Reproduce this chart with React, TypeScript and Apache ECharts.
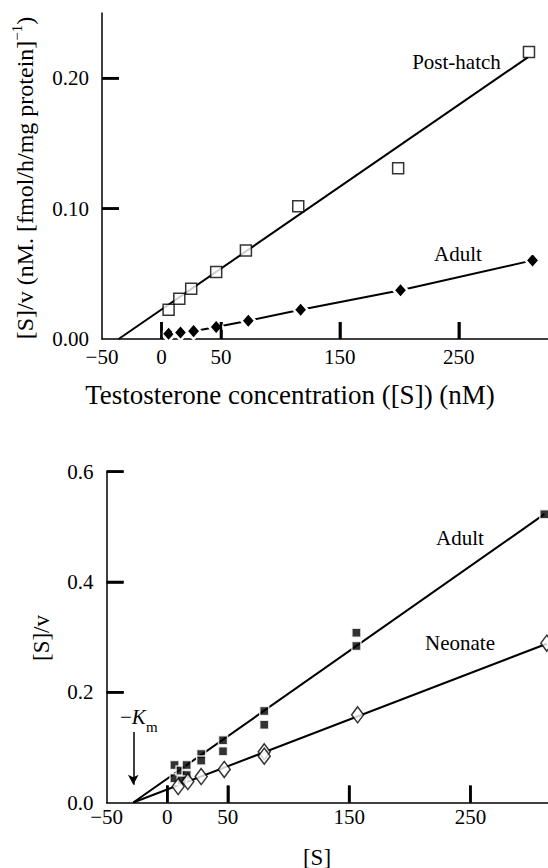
import React, { useEffect, useRef } from "react";
import * as echarts from "echarts";

// ---------- Top panel data ----------
const postHatchS = [6, 15, 25, 46, 71, 115, 199, 309];
const postHatchSv = [0.0224, 0.0308, 0.0386, 0.0514, 0.0679, 0.1018, 0.131, 0.2201];
const postHatchFitS = [-36, 308];
const postHatchFitSv = [0, 0.216];
const adultTopS = [6, 16, 27, 46, 73, 117, 201, 312];
const adultTopSv = [0.004, 0.005, 0.006, 0.0092, 0.014, 0.0224, 0.0374, 0.0603];

// ---------- Bottom panel data ----------
const adultBotS = [6, 6, 11, 16, 16, 12, 28, 28, 46, 46, 80, 80, 156, 156, 311];
const adultBotSv = [0.068, 0.044, 0.058, 0.068, 0.05, 0.04, 0.088, 0.076, 0.113, 0.093, 0.166, 0.141, 0.308, 0.284, 0.523];
const adultBotFitS = [-28, 311];
const adultBotFitSv = [0, 0.523];
const neonateS = [9, 17, 28, 47, 80, 80, 157, 313];
const neonateSv = [0.029, 0.038, 0.047, 0.06, 0.092, 0.084, 0.159, 0.289];
const neonateFitS = [-28, 313];
const neonateFitSv = [0, 0.288];
const kmS = -28;
const kmArrowSv = [0.128, 0.032];

// ---------- Axes / ticks ----------
const xMin = -50;
const xTopMax = 325;
const xBotMax = 314;
const yTopMax = 0.25;
const yBotMax = 0.6;
const xTickLabelValues = [-50, 0, 50, 150, 250];
const xTickMarkValues = [0, 50, 150, 250];
const yTopTickLabelValues = [0, 0.1, 0.2];
const yTopTickMarkValues = [0.1, 0.2];
const yBotTickLabelValues = [0, 0.2, 0.4, 0.6];
const yBotTickMarkValues = [0.2, 0.4, 0.6];

const FONT = "'Liberation Serif', 'Times New Roman', serif";

// layout (pixels)
const GRID_TOP = { left: 102, top: 13, width: 446, height: 326 };
const GRID_BOT = { left: 106.6, top: 471.7, width: 441.4, height: 330.8 };
const TICK_PX = 17;

const zip = (a: number[], b: number[]) => a.map((v, i) => [v, b[i]]);
const fmtX = (v: number) => (v < 0 ? "\u2212" + Math.abs(v) : String(v));

function xAxis(gridIndex: number, max: number, margin: number) {
  return {
    type: "value",
    gridIndex,
    min: xMin,
    max,
    axisLine: { show: true, onZero: false, lineStyle: { color: "#000", width: 1.5 } },
    splitLine: { show: false },
    axisTick: {
      show: true,
      inside: true,
      length: TICK_PX,
      customValues: xTickMarkValues,
      lineStyle: { color: "#000", width: 2.5 },
    },
    axisLabel: {
      customValues: xTickLabelValues,
      formatter: fmtX,
      fontSize: 21,
      fontFamily: FONT,
      color: "#000",
      margin,
    },
  };
}

function yAxis(gridIndex: number, max: number, labels: number[], marks: number[], digits: number, pad: number) {
  return {
    type: "value",
    gridIndex,
    min: 0,
    max,
    axisLine: { show: true, onZero: false, lineStyle: { color: "#000", width: 1.5 } },
    splitLine: { show: false },
    axisTick: {
      show: true,
      inside: true,
      length: TICK_PX,
      customValues: marks,
      lineStyle: { color: "#000", width: 2.5 },
    },
    axisLabel: {
      customValues: labels,
      formatter: (v: number) => v.toFixed(digits),
      fontSize: 21,
      fontFamily: FONT,
      color: "#000",
      margin: 13,
      padding: [pad, 0, 0, 0],
    },
  };
}

// inward tick marks also drawn as short line series, in each grid's data coordinates
function tickSeries(
  g: number,
  yMarks: number[],
  grid: { width: number; height: number },
  xmax: number,
  ymax: number
) {
  const xLen = (TICK_PX / grid.height) * ymax;
  const yLen = (TICK_PX / grid.width) * (xmax - xMin);
  const segs: number[][][] = [];
  xTickMarkValues.forEach((v) => segs.push([[v, 0], [v, xLen]]));
  yMarks.forEach((v) => segs.push([[xMin, v], [xMin + yLen, v]]));
  return segs.map((d, i) => ({
    type: "line",
    name: "tick-" + g + "-" + i,
    xAxisIndex: g,
    yAxisIndex: g,
    symbol: "none",
    silent: true,
    clip: false,
    lineStyle: { color: "#000", width: 2.5 },
    data: d,
    z: 5,
  }));
}

const textEl = (x: number, y: number, text: string, size: number, rotate = false) => ({
  type: "text",
  x,
  y,
  rotation: rotate ? Math.PI / 2 : 0,
  style: { text, fontSize: size, fontFamily: FONT, fill: "#000", align: "center", verticalAlign: "middle" },
});

export default function App() {
  const ref = useRef<HTMLDivElement>(null);
  useEffect(() => {
    if (!ref.current) return;
    const chart = echarts.init(ref.current, undefined, { renderer: "svg" });
    const lineBase = { type: "line", symbol: "none", lineStyle: { color: "#000", width: 2 }, z: 2 };
    const option: any = {
      animation: false,
      grid: [GRID_TOP, GRID_BOT],
      xAxis: [xAxis(0, xTopMax, 7), xAxis(1, xBotMax, 4)],
      yAxis: [
        yAxis(0, yTopMax, yTopTickLabelValues, yTopTickMarkValues, 2, 6),
        yAxis(1, yBotMax, yBotTickLabelValues, yBotTickMarkValues, 1, 0),
      ],
      series: [
        ...tickSeries(0, yTopTickMarkValues, GRID_TOP, xTopMax, yTopMax),
        ...tickSeries(1, yBotTickMarkValues, GRID_BOT, xBotMax, yBotMax),
        { ...lineBase, name: "Post-hatch fit", xAxisIndex: 0, yAxisIndex: 0, data: zip(postHatchFitS, postHatchFitSv) },
        {
          type: "scatter",
          name: "Post-hatch",
          xAxisIndex: 0,
          yAxisIndex: 0,
          symbol: "rect",
          symbolSize: 11,
          itemStyle: { color: "#fff", borderColor: "#000", borderWidth: 1.5 },
          data: zip(postHatchS, postHatchSv),
          z: 3,
        },
        {
          type: "line",
          name: "Adult (top)",
          xAxisIndex: 0,
          yAxisIndex: 0,
          symbol: "diamond",
          symbolSize: [14, 16],
          showAllSymbol: true,
          lineStyle: { color: "#000", width: 2 },
          itemStyle: { color: "#000", borderColor: "#fff", borderWidth: 2.5 },
          data: zip(adultTopS, adultTopSv),
          z: 3,
        },
        { ...lineBase, name: "Adult fit", xAxisIndex: 1, yAxisIndex: 1, data: zip(adultBotFitS, adultBotFitSv) },
        {
          ...lineBase,
          name: "Neonate fit",
          xAxisIndex: 1,
          yAxisIndex: 1,
          data: zip(neonateFitS, neonateFitSv),
          markLine: {
            silent: true,
            symbol: ["none", "arrow"],
            symbolSize: [8, 10],
            lineStyle: { color: "#000", width: 1.5, type: "solid" },
            label: { show: false },
            data: [[{ coord: [kmS, kmArrowSv[0]] }, { coord: [kmS, kmArrowSv[1]] }]],
          },
        },
        {
          type: "scatter",
          name: "Adult",
          xAxisIndex: 1,
          yAxisIndex: 1,
          symbol: "rect",
          symbolSize: 9,
          itemStyle: { color: "#000", borderColor: "#fff", borderWidth: 1.5 },
          data: zip(adultBotS, adultBotSv),
          z: 3,
        },
        {
          type: "scatter",
          name: "Neonate",
          xAxisIndex: 1,
          yAxisIndex: 1,
          symbol: "diamond",
          symbolSize: [12, 16],
          itemStyle: { color: "#fff", borderColor: "#000", borderWidth: 1.5 },
          data: zip(neonateS, neonateSv),
          z: 4,
        },
      ],
      graphic: [
        {
          type: "text",
          x: 23,
          y: 178,
          rotation: Math.PI / 2,
          style: {
            text: "{a|[S]/v (nM. [fmol/h/mg protein]}{b|\u22121}{a|)}",
            align: "center",
            verticalAlign: "middle",
            fill: "#000",
            rich: {
              a: { fontSize: 24, fontFamily: FONT, fill: "#000", lineHeight: 28, verticalAlign: "bottom" },
              b: { fontSize: 15, fontFamily: FONT, fill: "#000", lineHeight: 28, verticalAlign: "top", padding: [0, 0, 12, 0] },
            },
          },
        },
        textEl(290, 395, "Testosterone concentration ([S]) (nM)", 27),
        textEl(456.5, 62, "Post-hatch", 21),
        textEl(458, 254, "Adult", 21),
        textEl(460, 538, "Adult", 21),
        textEl(460, 643, "Neonate", 21),
        textEl(41, 638, "[S]/v", 23, true),
        textEl(317, 857, "[S]", 23),
        {
          type: "text",
          x: 120,
          y: 717,
          style: {
            text: "{n|\u2212}{k|K}",
            align: "left",
            verticalAlign: "middle",
            rich: {
              n: { fontSize: 21, fontFamily: FONT, fill: "#000" },
              k: { fontSize: 21, fontFamily: FONT, fontStyle: "italic", fill: "#000" },
            },
          },
        },
        {
          type: "text",
          x: 146,
          y: 727,
          style: { text: "m", fontSize: 15, fontFamily: FONT, fill: "#000", align: "left", verticalAlign: "middle" },
        },
      ],
    };
    chart.setOption(option);
    return () => chart.dispose();
  }, []);
  return (
    <div
      ref={ref}
      style={{ position: "absolute", left: 0, top: 0, width: 548, height: 868, background: "#fff" }}
    />
  );
}
